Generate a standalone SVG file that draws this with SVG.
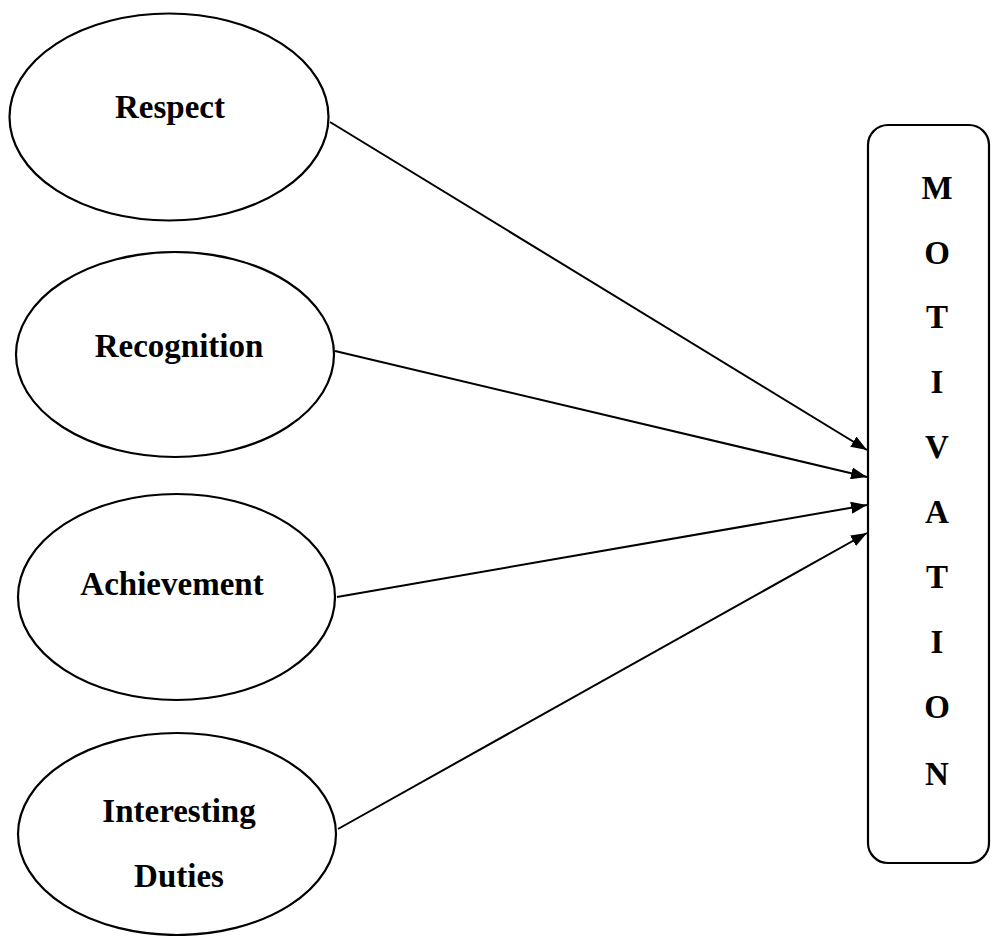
<svg xmlns="http://www.w3.org/2000/svg" width="991" height="936" viewBox="0 0 991 936">
<defs>
<style>
.node{fill:#fff;stroke:#000;stroke-width:2.2}
.lbl{font-family:"Liberation Serif","Times New Roman",serif;font-weight:bold;font-size:33px;fill:#000;text-anchor:middle}
.conn{stroke:#000;stroke-width:2;fill:none;marker-end:url(#ah)}
</style>
<marker id="ah" markerWidth="16" markerHeight="12" viewBox="0 0 16 12" refX="16" refY="6" orient="auto" markerUnits="userSpaceOnUse">
<path d="M0,0 L16,6 L0,12 Z" fill="#000"/>
</marker>
</defs>
<rect width="991" height="936" fill="#fff"/>
<g id="respect">
<ellipse class="node" cx="169" cy="117" rx="159.5" ry="103.5"/>
<text class="lbl" x="170" y="118">Respect</text>
</g>
<g id="recognition">
<ellipse class="node" cx="175" cy="354.5" rx="159" ry="102.5"/>
<text class="lbl" x="179" y="357">Recognition</text>
</g>
<g id="achievement">
<ellipse class="node" cx="176.5" cy="597" rx="158.5" ry="103"/>
<text class="lbl" x="172" y="595">Achievement</text>
</g>
<g id="interesting-duties">
<ellipse class="node" cx="177" cy="834" rx="159" ry="101"/>
<text class="lbl" x="179" y="822">Interesting</text>
<text class="lbl" x="179" y="887">Duties</text>
</g>
<g id="motivation">
<rect class="node" x="868" y="125" width="121" height="738" rx="20" ry="20"/>
<text class="lbl" x="937" y="199">M</text>
<text class="lbl" x="937" y="264">O</text>
<text class="lbl" x="937" y="328">T</text>
<text class="lbl" x="937" y="393">I</text>
<text class="lbl" x="937" y="458">V</text>
<text class="lbl" x="937" y="523">A</text>
<text class="lbl" x="937" y="588">T</text>
<text class="lbl" x="937" y="653">I</text>
<text class="lbl" x="937" y="718">O</text>
<text class="lbl" x="937" y="785">N</text>
</g>
<g id="connectors">
<line class="conn" x1="330" y1="122" x2="867" y2="450"/>
<line class="conn" x1="335" y1="351" x2="867" y2="477"/>
<line class="conn" x1="337" y1="597" x2="867" y2="505"/>
<line class="conn" x1="338" y1="829" x2="867" y2="533"/>
</g>
</svg>
